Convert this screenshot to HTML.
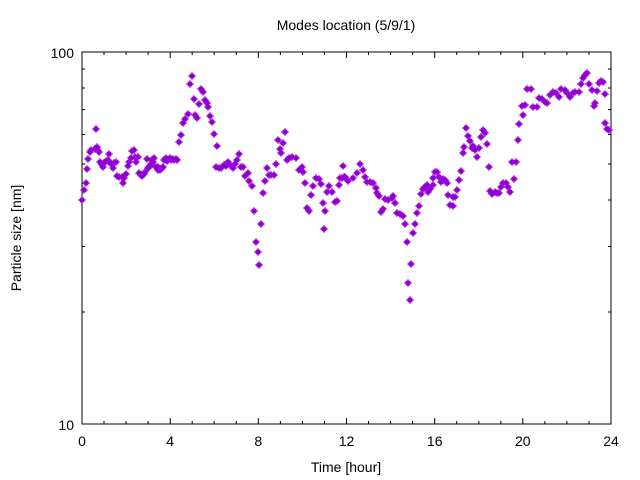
<!DOCTYPE html>
<html><head><meta charset="utf-8"><style>
html,body{margin:0;padding:0;background:#fff;}
svg{display:block;font-family:"Liberation Sans","DejaVu Sans",sans-serif;}
</style></head><body>
<svg width="640" height="480" viewBox="0 0 640 480" xmlns="http://www.w3.org/2000/svg">
<defs>
<g id="m"><rect x="-2.3" y="-2.3" width="4.6" height="4.6" fill="#9400d3"/><path d="M-3.6 0H3.6M0 -3.6V3.6" stroke="#9400d3" stroke-width="1.4"/></g>
</defs>
<rect x="82" y="52" width="529" height="372" fill="none" stroke="#000" stroke-width="1"/>
<g stroke="#000" stroke-width="1">
<path d="M82 424v-6M170.2 424v-6M258.3 424v-6M346.5 424v-6M434.7 424v-6M522.8 424v-6M611 424v-6
M82 52v6M170.2 52v6M258.3 52v6M346.5 52v6M434.7 52v6M522.8 52v6M611 52v6"/>
<path d="M104 424v-3M126.1 424v-3M148.1 424v-3M192.2 424v-3M214.2 424v-3M236.3 424v-3M280.4 424v-3M302.4 424v-3M324.5 424v-3M368.5 424v-3M390.6 424v-3M412.6 424v-3M456.7 424v-3M478.8 424v-3M500.8 424v-3M544.9 424v-3M566.9 424v-3M589 424v-3
M104 52v3M126.1 52v3M148.1 52v3M192.2 52v3M214.2 52v3M236.3 52v3M280.4 52v3M302.4 52v3M324.5 52v3M368.5 52v3M390.6 52v3M412.6 52v3M456.7 52v3M478.8 52v3M500.8 52v3M544.9 52v3M566.9 52v3M589 52v3"/>
<path d="M82 312h3M82 246.5h3M82 200h3M82 164h3M82 134.5h3M82 109.6h3M82 88h3M82 69h3
M611 312h-3M611 246.5h-3M611 200h-3M611 164h-3M611 134.5h-3M611 109.6h-3M611 88h-3M611 69h-3"/>
<path d="M82 52h6M82 424h6M611 52h-6M611 424h-6"/>
</g>
<g font-size="14" fill="#000">
<text x="346" y="30" text-anchor="middle">Modes location (5/9/1)</text>
<text x="74" y="58" text-anchor="end">100</text>
<text x="74" y="430" text-anchor="end">10</text>
<text x="82" y="446" text-anchor="middle">0</text>
<text x="170.2" y="446" text-anchor="middle">4</text>
<text x="258.3" y="446" text-anchor="middle">8</text>
<text x="346.5" y="446" text-anchor="middle">12</text>
<text x="434.7" y="446" text-anchor="middle">16</text>
<text x="522.8" y="446" text-anchor="middle">20</text>
<text x="611" y="446" text-anchor="middle">24</text>
<text x="346" y="472" text-anchor="middle">Time [hour]</text>
<text x="21" y="238" text-anchor="middle" transform="rotate(-90 21 238)">Particle size [nm]</text>
</g>
<g>
<use href="#m" x="82" y="200"/><use href="#m" x="84" y="190"/><use href="#m" x="86" y="183"/><use href="#m" x="87" y="169"/><use href="#m" x="88" y="159"/><use href="#m" x="90" y="152"/><use href="#m" x="91" y="150"/><use href="#m" x="95" y="149"/><use href="#m" x="96" y="129"/><use href="#m" x="97" y="147"/><use href="#m" x="98" y="150"/><use href="#m" x="99" y="152"/><use href="#m" x="100" y="162"/><use href="#m" x="102" y="165"/><use href="#m" x="103" y="167"/><use href="#m" x="104" y="163"/><use href="#m" x="106" y="161"/><use href="#m" x="108" y="160"/><use href="#m" x="109" y="154"/><use href="#m" x="110" y="163"/><use href="#m" x="112" y="164"/><use href="#m" x="113" y="168"/><use href="#m" x="114" y="163"/><use href="#m" x="116" y="162"/><use href="#m" x="117" y="176"/><use href="#m" x="119" y="177"/><use href="#m" x="122" y="177"/><use href="#m" x="123" y="183"/><use href="#m" x="124" y="178"/><use href="#m" x="126" y="174"/><use href="#m" x="128" y="166"/><use href="#m" x="129" y="162"/><use href="#m" x="131" y="158"/><use href="#m" x="132" y="151"/><use href="#m" x="134" y="150"/><use href="#m" x="135" y="157"/><use href="#m" x="136" y="162"/><use href="#m" x="138" y="157"/><use href="#m" x="139" y="173"/><use href="#m" x="141" y="175"/><use href="#m" x="142" y="176"/><use href="#m" x="144" y="174"/><use href="#m" x="145" y="172"/><use href="#m" x="147" y="159"/><use href="#m" x="148" y="168"/><use href="#m" x="149" y="167"/><use href="#m" x="151" y="164"/><use href="#m" x="152" y="160"/><use href="#m" x="153" y="162"/><use href="#m" x="154" y="158"/><use href="#m" x="156" y="167"/><use href="#m" x="158" y="170"/><use href="#m" x="158" y="167"/><use href="#m" x="160" y="170"/><use href="#m" x="162" y="168"/><use href="#m" x="163" y="167"/><use href="#m" x="164" y="160"/><use href="#m" x="166" y="158"/><use href="#m" x="167" y="161"/><use href="#m" x="168" y="160"/><use href="#m" x="170" y="158"/><use href="#m" x="171" y="160"/><use href="#m" x="173" y="159"/><use href="#m" x="174" y="160"/><use href="#m" x="176" y="159"/><use href="#m" x="177" y="160"/>
<use href="#m" x="179" y="142"/><use href="#m" x="181" y="135"/><use href="#m" x="183" y="123"/><use href="#m" x="185" y="119"/><use href="#m" x="188" y="114"/><use href="#m" x="190" y="84"/><use href="#m" x="192" y="76"/><use href="#m" x="194" y="99"/><use href="#m" x="195" y="115"/><use href="#m" x="197" y="118"/><use href="#m" x="199" y="104"/><use href="#m" x="201" y="89"/><use href="#m" x="203" y="92"/><use href="#m" x="205" y="100"/><use href="#m" x="207" y="103"/><use href="#m" x="208" y="107"/><use href="#m" x="210" y="116"/><use href="#m" x="212" y="122"/><use href="#m" x="214" y="134"/><use href="#m" x="217" y="146"/><use href="#m" x="216" y="167"/><use href="#m" x="219" y="168"/><use href="#m" x="221" y="168"/><use href="#m" x="224" y="165"/><use href="#m" x="226" y="166"/><use href="#m" x="228" y="162"/><use href="#m" x="230" y="165"/><use href="#m" x="233" y="168"/><use href="#m" x="235" y="164"/><use href="#m" x="237" y="160"/><use href="#m" x="239" y="154"/><use href="#m" x="241" y="167"/><use href="#m" x="243" y="167"/><use href="#m" x="245" y="176"/><use href="#m" x="248" y="173"/><use href="#m" x="249" y="181"/><use href="#m" x="252" y="186"/>
<use href="#m" x="254" y="211"/><use href="#m" x="256" y="242"/><use href="#m" x="258" y="252"/><use href="#m" x="259" y="265"/><use href="#m" x="261" y="224"/><use href="#m" x="263" y="193"/><use href="#m" x="265" y="181"/><use href="#m" x="267" y="168"/><use href="#m" x="269" y="175"/><use href="#m" x="271" y="175"/><use href="#m" x="274" y="175"/><use href="#m" x="276" y="164"/><use href="#m" x="278" y="140"/><use href="#m" x="280" y="149"/><use href="#m" x="281" y="153"/><use href="#m" x="283" y="143"/><use href="#m" x="285" y="132"/><use href="#m" x="287" y="160"/><use href="#m" x="289" y="158"/><use href="#m" x="292" y="157"/><use href="#m" x="296" y="158"/><use href="#m" x="299" y="170"/><use href="#m" x="302" y="167"/><use href="#m" x="303" y="172"/><use href="#m" x="305" y="183"/><use href="#m" x="307" y="208"/><use href="#m" x="309" y="211"/><use href="#m" x="311" y="195"/><use href="#m" x="313" y="186"/><use href="#m" x="316" y="178"/><use href="#m" x="319" y="179"/><use href="#m" x="321" y="184"/><use href="#m" x="323" y="203"/><use href="#m" x="324" y="229"/><use href="#m" x="325" y="211"/><use href="#m" x="327" y="192"/><use href="#m" x="329" y="186"/><use href="#m" x="332" y="192"/><use href="#m" x="335" y="202"/><use href="#m" x="337" y="201"/><use href="#m" x="339" y="185"/><use href="#m" x="340" y="178"/><use href="#m" x="343" y="166"/><use href="#m" x="344" y="177"/>
<use href="#m" x="342" y="178"/><use href="#m" x="345" y="177"/><use href="#m" x="348" y="181"/><use href="#m" x="353" y="178"/><use href="#m" x="357" y="173"/><use href="#m" x="360" y="164"/><use href="#m" x="363" y="170"/><use href="#m" x="365" y="177"/><use href="#m" x="367" y="182"/><use href="#m" x="370" y="182"/><use href="#m" x="373" y="183"/><use href="#m" x="376" y="188"/><use href="#m" x="377" y="193"/><use href="#m" x="379" y="196"/><use href="#m" x="381" y="212"/><use href="#m" x="383" y="209"/><use href="#m" x="385" y="199"/><use href="#m" x="388" y="200"/><use href="#m" x="392" y="198"/><use href="#m" x="393" y="196"/><use href="#m" x="395" y="203"/><use href="#m" x="397" y="213"/><use href="#m" x="400" y="214"/><use href="#m" x="403" y="216"/><use href="#m" x="405" y="224"/><use href="#m" x="407" y="242"/><use href="#m" x="408" y="283"/><use href="#m" x="410" y="300"/><use href="#m" x="411" y="264"/><use href="#m" x="413" y="233"/><use href="#m" x="415" y="224"/><use href="#m" x="417" y="213"/><use href="#m" x="419" y="206"/><use href="#m" x="421" y="194"/><use href="#m" x="423" y="189"/><use href="#m" x="425" y="187"/><use href="#m" x="427" y="185"/><use href="#m" x="428" y="192"/><use href="#m" x="430" y="189"/><use href="#m" x="433" y="185"/><use href="#m" x="433" y="178"/><use href="#m" x="435" y="172"/><use href="#m" x="437" y="172"/><use href="#m" x="439" y="177"/><use href="#m" x="441" y="182"/><use href="#m" x="443" y="179"/><use href="#m" x="445" y="180"/><use href="#m" x="447" y="183"/><use href="#m" x="448" y="195"/><use href="#m" x="450" y="205"/><use href="#m" x="453" y="206"/><use href="#m" x="453" y="197"/><use href="#m" x="455" y="197"/><use href="#m" x="457" y="190"/><use href="#m" x="459" y="180"/><use href="#m" x="461" y="171"/><use href="#m" x="463" y="153"/><use href="#m" x="464" y="147"/><use href="#m" x="466" y="128"/><use href="#m" x="468" y="136"/><use href="#m" x="470" y="141"/><use href="#m" x="472" y="148"/><use href="#m" x="473" y="146"/><use href="#m" x="475" y="150"/><use href="#m" x="477" y="157"/><use href="#m" x="479" y="148"/><use href="#m" x="481" y="137"/><use href="#m" x="483" y="130"/><use href="#m" x="485" y="133"/><use href="#m" x="487" y="144"/><use href="#m" x="489" y="167"/><use href="#m" x="490" y="191"/><use href="#m" x="492" y="194"/><use href="#m" x="495" y="192"/><use href="#m" x="497" y="193"/><use href="#m" x="499" y="193"/><use href="#m" x="501" y="187"/><use href="#m" x="503" y="183"/><use href="#m" x="506" y="183"/><use href="#m" x="508" y="187"/><use href="#m" x="510" y="192"/><use href="#m" x="512" y="162"/><use href="#m" x="516" y="162"/><use href="#m" x="514" y="179"/><use href="#m" x="518" y="140"/><use href="#m" x="519" y="124"/><use href="#m" x="522" y="106"/><use href="#m" x="523" y="115"/><use href="#m" x="525" y="105"/><use href="#m" x="527" y="89"/><use href="#m" x="531" y="89"/><use href="#m" x="533" y="107"/><use href="#m" x="537" y="107"/><use href="#m" x="539" y="98"/><use href="#m" x="542" y="99"/><use href="#m" x="545" y="102"/><use href="#m" x="547" y="103"/><use href="#m" x="550" y="95"/><use href="#m" x="553" y="92"/><use href="#m" x="556" y="93"/><use href="#m" x="559" y="97"/><use href="#m" x="561" y="89"/><use href="#m" x="565" y="90"/><use href="#m" x="567" y="93"/><use href="#m" x="570" y="97"/><use href="#m" x="573" y="93"/><use href="#m" x="575" y="92"/><use href="#m" x="579" y="92"/><use href="#m" x="581" y="84"/><use href="#m" x="583" y="78"/><use href="#m" x="585" y="75"/><use href="#m" x="587" y="73"/><use href="#m" x="589" y="84"/><use href="#m" x="592" y="90"/><use href="#m" x="594" y="106"/><use href="#m" x="595" y="103"/><use href="#m" x="597" y="91"/><use href="#m" x="599" y="83"/><use href="#m" x="601" y="81"/><use href="#m" x="603" y="82"/><use href="#m" x="605" y="94"/><use href="#m" x="605" y="123"/><use href="#m" x="607" y="129"/><use href="#m" x="609" y="130"/>
</g>
</svg>
</body></html>
